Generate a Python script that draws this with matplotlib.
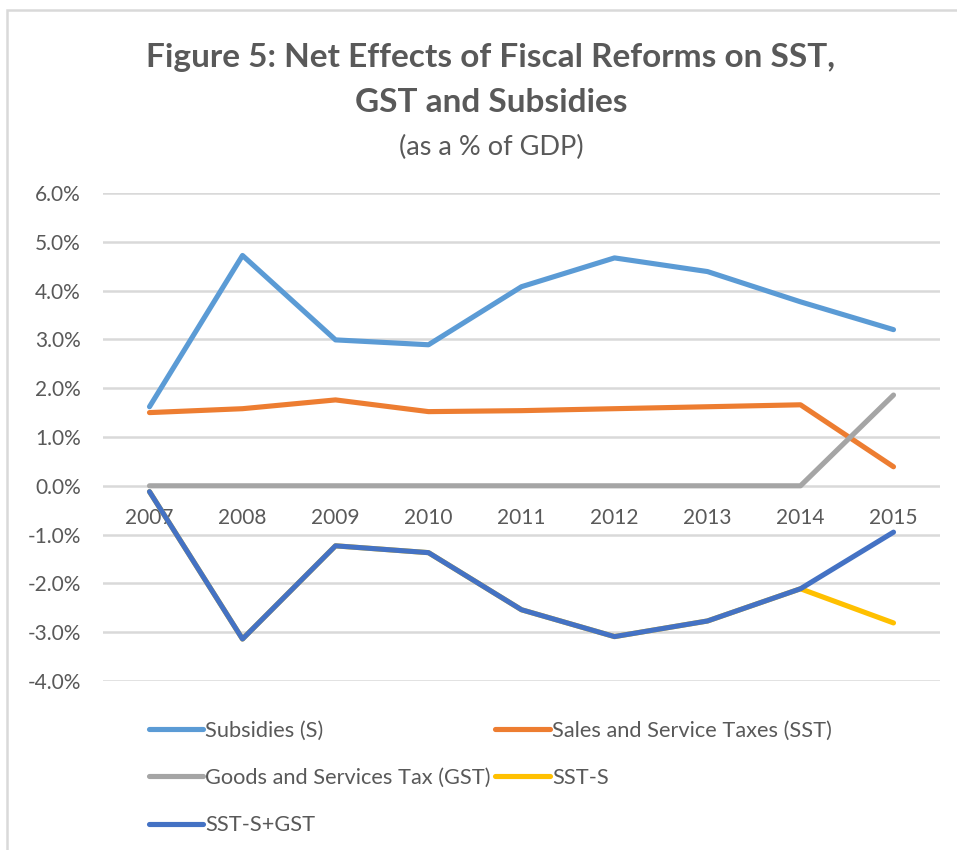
import matplotlib
matplotlib.use("Agg")
import matplotlib.pyplot as plt
from matplotlib.ticker import FuncFormatter
from matplotlib.patches import Rectangle

plt.rcParams['font.family'] = ['Lato', 'DejaVu Sans']

years = ['2007', '2008', '2009', '2010', '2011', '2012', '2013', '2014', '2015']

# shares of GDP, in percent
subsidies = [1.62, 4.72, 2.99, 2.89, 4.08, 4.67, 4.39, 3.77, 3.20]
sst = [1.50, 1.58, 1.76, 1.52, 1.54, 1.58, 1.62, 1.66, 0.39]
gst = [0.0, 0.0, 0.0, 0.0, 0.0, 0.0, 0.0, 0.0, 1.86]
sst_minus_s = [-0.12, -3.14, -1.23, -1.37, -2.54, -3.09, -2.77, -2.11, -2.81]
sst_minus_s_plus_gst = [-0.12, -3.14, -1.23, -1.37, -2.54, -3.09, -2.77, -2.11, -0.95]

series = [
    ('Subsidies (S)', subsidies, '#5B9BD5'),
    ('Sales and Service Taxes (SST)', sst, '#ED7D31'),
    ('Goods and Services Tax (GST)', gst, '#A5A5A5'),
    ('SST-S', sst_minus_s, '#FFC000'),
    ('SST-S+GST', sst_minus_s_plus_gst, '#4472C4'),
]

text_grey = '#595959'
grid_grey = '#D9D9D9'

fig = plt.figure(figsize=(9.57, 8.5), dpi=100)
ax = fig.add_axes([103 / 957, 1 - 681 / 850, 837 / 957, 488 / 850])

x = list(range(len(years)))
lines = {}
for name, vals, col in series:
    ln, = ax.plot(x, vals, color=col, lw=3.7, label=name,
                  solid_capstyle='round', solid_joinstyle='round')
    lines[name] = ln

ax.set_xlim(-0.5, len(years) - 0.5)
ax.set_ylim(-4, 6)
ax.set_yticks(range(-4, 7))
ax.yaxis.set_major_formatter(FuncFormatter(lambda v, p: f'{v:.1f}%'))
ax.set_xticks(x)
ax.set_xticklabels(years)

ax.grid(axis='y', color=grid_grey, lw=1.8)
ax.set_axisbelow(True)
for s in ax.spines.values():
    s.set_visible(False)
ax.spines['bottom'].set_position(('data', 0))
ax.tick_params(axis='both', length=0, labelsize=15, colors=text_grey)
ax.tick_params(axis='x', pad=16)
ax.tick_params(axis='y', pad=16)

# titles
fig.text(0.513, 1 - 58 / 850, 'Figure 5: Net Effects of Fiscal Reforms on SST,',
         ha='center', va='center', fontsize=24, fontweight='bold', color=text_grey)
fig.text(0.513, 1 - 103 / 850, 'GST and Subsidies',
         ha='center', va='center', fontsize=24, fontweight='bold', color=text_grey)
fig.text(0.513, 1 - 147 / 850, '(as a % of GDP)',
         ha='center', va='center', fontsize=19.5, color=text_grey)

# legend filled column-wise, so order the entries to read row by row
order = ['Subsidies (S)', 'Goods and Services Tax (GST)', 'SST-S+GST',
         'Sales and Service Taxes (SST)', 'SST-S']
leg = fig.legend([lines[n] for n in order], order, ncol=2, frameon=False,
                 loc='upper left', bbox_to_anchor=(140 / 957, 1 - 712 / 850),
                 fontsize=15.7, handlelength=2.5, handletextpad=0.1,
                 columnspacing=0.2, labelspacing=1.25, borderaxespad=0)
for t in leg.get_texts():
    t.set_color(text_grey)

# chart area border
fig.add_artist(Rectangle((7 / 957, -0.1), 1.2, 1 - 10 / 850 + 0.1,
                         transform=fig.transFigure, fill=False,
                         edgecolor=grid_grey, lw=1.8))

fig.savefig('out.png', dpi=100)
